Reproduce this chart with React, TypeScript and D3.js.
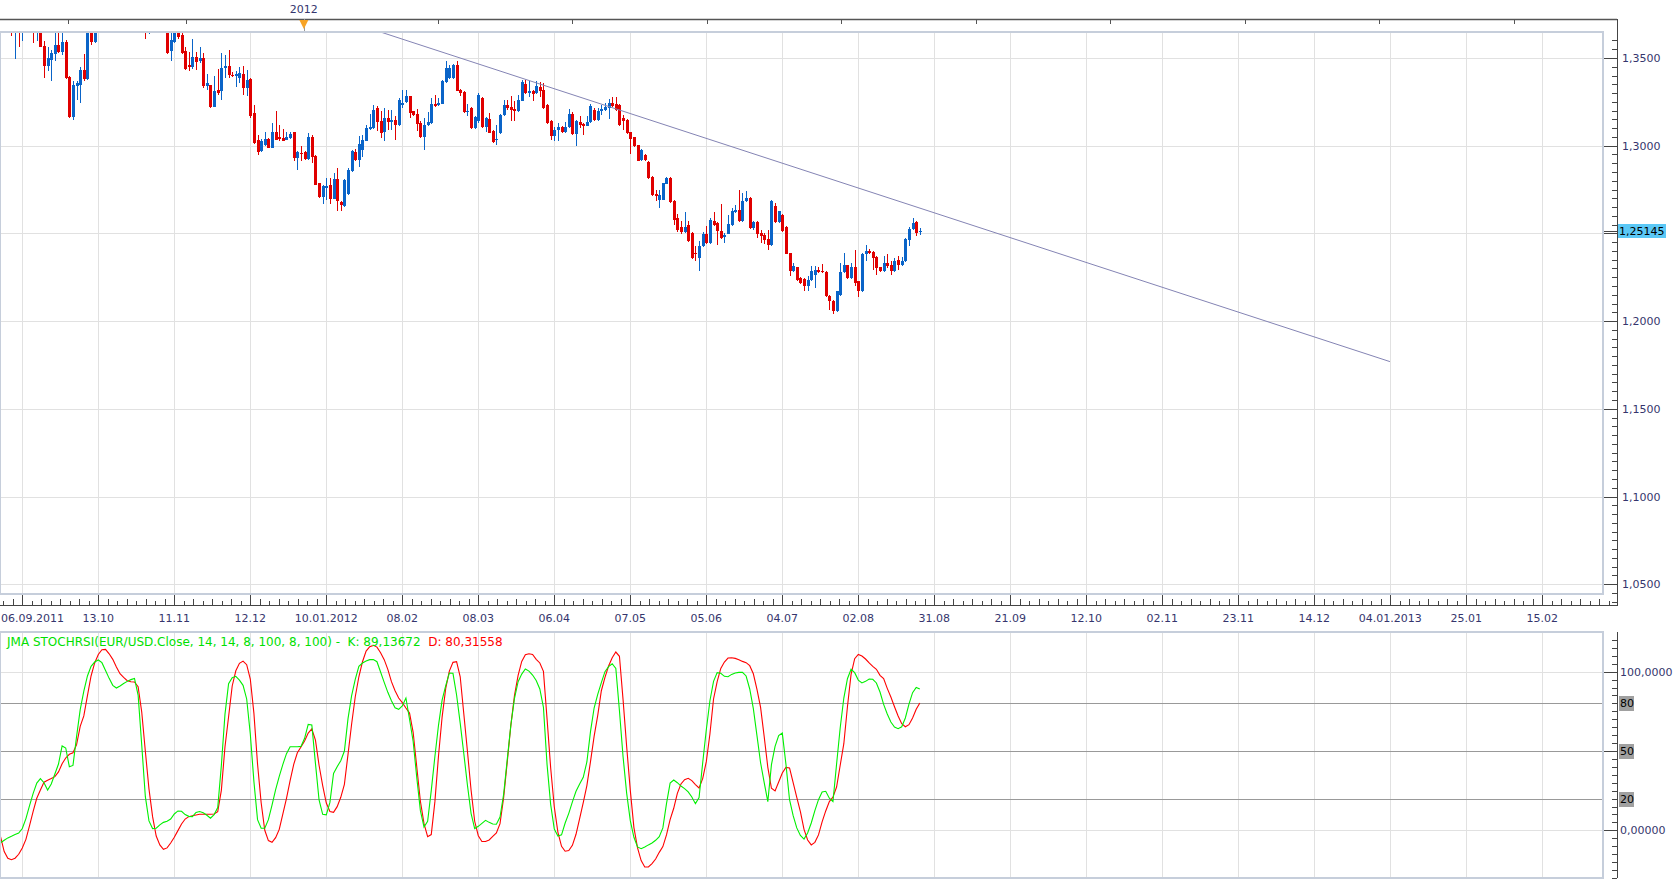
import React from 'react';
import * as d3 from 'd3';

// first bar of the series is 06.09.2011, bars are counted from the 13.10 tick minus 21
const firstBar = -6;

const opens = [
  1.4090, 1.4010, 1.4060, 1.3880, 1.3660, 1.3700, 1.3690, 1.3770, 1.3880, 1.3790,
  1.3690, 1.3715, 1.3568, 1.3456, 1.3490, 1.3522, 1.3572, 1.3534, 1.3591, 1.3390,
  1.3164, 1.3340, 1.3348, 1.3433, 1.3380, 1.3644, 1.3590, 1.3700, 1.3880, 1.3740,
  1.3760, 1.3800, 1.3770, 1.3890, 1.3910, 1.3900, 1.3910, 1.4150, 1.4140, 1.3860,
  1.3700, 1.3680, 1.3800, 1.3780, 1.3760, 1.3800, 1.3790, 1.3538, 1.3590, 1.3740,
  1.3630, 1.3540, 1.3462, 1.3447, 1.3507, 1.3481, 1.3500, 1.3338, 1.3344, 1.3223,
  1.3320, 1.3310, 1.3441, 1.3456, 1.3405, 1.3398, 1.3386, 1.3409, 1.3329, 1.3380,
  1.3186, 1.3035, 1.2972, 1.3002, 1.3038, 1.2987, 1.3078, 1.3050, 1.3044, 1.3035,
  1.3042, 1.3076, 1.2930, 1.2960, 1.2964, 1.2924, 1.3050, 1.2940, 1.2787, 1.2706,
  1.2760, 1.2778, 1.2698, 1.2810, 1.2679, 1.2655, 1.2725, 1.2858, 1.2964, 1.2920,
  1.2978, 1.3029, 1.3097, 1.3101, 1.3215, 1.3139, 1.3076, 1.3158, 1.3135, 1.3149,
  1.3120, 1.3230, 1.3249, 1.3282, 1.3196, 1.3180, 1.3130, 1.3050, 1.3120, 1.3130,
  1.3238, 1.3230, 1.3240, 1.3363, 1.3386, 1.3386, 1.3458, 1.3320, 1.3306, 1.3190,
  1.3215, 1.3101, 1.3139, 1.3272, 1.3105, 1.3155, 1.3082, 1.3030, 1.3073, 1.3177,
  1.3230, 1.3220, 1.3211, 1.3196, 1.3257, 1.3352, 1.3300, 1.3314, 1.3300, 1.3333,
  1.3320, 1.3234, 1.3139, 1.3054, 1.3092, 1.3105, 1.3078, 1.3105, 1.3181, 1.3067,
  1.3135, 1.3124, 1.3115, 1.3135, 1.3205, 1.3148, 1.3200, 1.3205, 1.3215, 1.3244,
  1.3238, 1.3234, 1.3158, 1.3148, 1.3078, 1.3048, 1.3002, 1.2921, 1.2949, 1.2905,
  1.2820, 1.2725, 1.2693, 1.2693, 1.2784, 1.2816, 1.2683, 1.2588, 1.2535, 1.2508,
  1.2550, 1.2503, 1.2390, 1.2360, 1.2426, 1.2497, 1.2446, 1.2573, 1.2560, 1.2516,
  1.2480, 1.2499, 1.2550, 1.2622, 1.2636, 1.2569, 1.2683, 1.2702, 1.2531, 1.2565,
  1.2503, 1.2493, 1.2470, 1.2436, 1.2655, 1.2565, 1.2607, 1.2535, 1.2388, 1.2284,
  1.2307, 1.2246, 1.2242, 1.2198, 1.2236, 1.2265, 1.2293, 1.2284, 1.2280, 1.2145,
  1.2117, 1.2056, 1.2151, 1.2280, 1.2318, 1.2246, 1.2307, 1.2227, 1.2170, 1.2380,
  1.2402, 1.2394, 1.2364, 1.2307, 1.2284, 1.2331, 1.2318, 1.2284, 1.2350, 1.2318,
  1.2341, 1.2465, 1.2527, 1.2565, 1.2506,
];

const highs = [
  1.4120, 1.4080, 1.4080, 1.3900, 1.3740, 1.3760, 1.3810, 1.3920, 1.3900, 1.3800,
  1.3740, 1.3740, 1.3595, 1.3563, 1.3544, 1.3670, 1.3660, 1.3670, 1.3600, 1.3395,
  1.3367, 1.3367, 1.3447, 1.3523, 1.3660, 1.3700, 1.3720, 1.3900, 1.3910, 1.3800,
  1.3840, 1.3860, 1.3920, 1.3960, 1.3950, 1.3960, 1.4240, 1.4190, 1.4150, 1.3870,
  1.3770, 1.3830, 1.3860, 1.3820, 1.3830, 1.3815, 1.3815, 1.3660, 1.3760, 1.3760,
  1.3650, 1.3560, 1.3534, 1.3608, 1.3534, 1.3563, 1.3530, 1.3409, 1.3348, 1.3395,
  1.3437, 1.3528, 1.3515, 1.3544, 1.3420, 1.3424, 1.3447, 1.3452, 1.3432, 1.3385,
  1.3234, 1.3059, 1.3040, 1.3078, 1.3045, 1.3130, 1.3200, 1.3120, 1.3095, 1.3078,
  1.3076, 1.3080, 1.2970, 1.2996, 1.2970, 1.3073, 1.3060, 1.2945, 1.2790, 1.2775,
  1.2816, 1.2816, 1.2845, 1.2873, 1.2687, 1.2810, 1.2873, 1.2975, 1.2983, 1.3054,
  1.3059, 1.3116, 1.3181, 1.3234, 1.3224, 1.3196, 1.3215, 1.3205, 1.3205, 1.3168,
  1.3272, 1.3318, 1.3318, 1.3285, 1.3200, 1.3209, 1.3139, 1.3158, 1.3190, 1.3272,
  1.3291, 1.3272, 1.3376, 1.3485, 1.3462, 1.3466, 1.3485, 1.3325, 1.3310, 1.3238,
  1.3221, 1.3170, 1.3300, 1.3280, 1.3165, 1.3186, 1.3090, 1.3120, 1.3180, 1.3262,
  1.3260, 1.3282, 1.3253, 1.3291, 1.3376, 1.3376, 1.3371, 1.3320, 1.3371, 1.3363,
  1.3357, 1.3240, 1.3145, 1.3105, 1.3130, 1.3110, 1.3133, 1.3211, 1.3190, 1.3148,
  1.3168, 1.3130, 1.3168, 1.3240, 1.3215, 1.3215, 1.3234, 1.3243, 1.3266, 1.3278,
  1.3278, 1.3240, 1.3177, 1.3150, 1.3080, 1.3050, 1.3005, 1.2980, 1.2955, 1.2910,
  1.2825, 1.2750, 1.2750, 1.2790, 1.2822, 1.2822, 1.2690, 1.2611, 1.2573, 1.2622,
  1.2569, 1.2510, 1.2430, 1.2455, 1.2508, 1.2541, 1.2590, 1.2622, 1.2565, 1.2668,
  1.2503, 1.2607, 1.2645, 1.2660, 1.2746, 1.2730, 1.2740, 1.2710, 1.2570, 1.2570,
  1.2521, 1.2500, 1.2521, 1.2693, 1.2674, 1.2630, 1.2610, 1.2540, 1.2390, 1.2331,
  1.2310, 1.2250, 1.2245, 1.2255, 1.2312, 1.2312, 1.2310, 1.2326, 1.2284, 1.2150,
  1.2120, 1.2174, 1.2331, 1.2388, 1.2320, 1.2331, 1.2407, 1.2230, 1.2388, 1.2436,
  1.2410, 1.2400, 1.2370, 1.2310, 1.2370, 1.2383, 1.2341, 1.2360, 1.2370, 1.2364,
  1.2475, 1.2535, 1.2588, 1.2570, 1.2531,
];

const lows = [
  1.3970, 1.3960, 1.3860, 1.3625, 1.3496, 1.3561, 1.3595, 1.3700, 1.3710, 1.3587,
  1.3599, 1.3560, 1.3386, 1.3424, 1.3367, 1.3485, 1.3527, 1.3519, 1.3380, 1.3160,
  1.3149, 1.3263, 1.3244, 1.3367, 1.3375, 1.3575, 1.3585, 1.3680, 1.3720, 1.3680,
  1.3700, 1.3720, 1.3750, 1.3850, 1.3850, 1.3760, 1.3900, 1.4080, 1.3840, 1.3670,
  1.3610, 1.3639, 1.3720, 1.3700, 1.3690, 1.3720, 1.3525, 1.3485, 1.3586, 1.3610,
  1.3520, 1.3430, 1.3424, 1.3440, 1.3434, 1.3471, 1.3330, 1.3318, 1.3215, 1.3220,
  1.3291, 1.3262, 1.3386, 1.3386, 1.3390, 1.3335, 1.3357, 1.3291, 1.3285, 1.3160,
  1.3010, 1.2945, 1.2965, 1.3000, 1.2985, 1.2985, 1.3030, 1.3025, 1.3025, 1.3030,
  1.3040, 1.2915, 1.2864, 1.2911, 1.2920, 1.2920, 1.2901, 1.2775, 1.2700, 1.2668,
  1.2693, 1.2668, 1.2695, 1.2630, 1.2630, 1.2649, 1.2720, 1.2850, 1.2915, 1.2881,
  1.2938, 1.3025, 1.3090, 1.3095, 1.3082, 1.3044, 1.3029, 1.3091, 1.3090, 1.3035,
  1.3115, 1.3215, 1.3245, 1.3158, 1.3170, 1.3082, 1.3045, 1.2977, 1.3115, 1.3125,
  1.3220, 1.3225, 1.3235, 1.3360, 1.3380, 1.3380, 1.3310, 1.3285, 1.3185, 1.3167,
  1.3095, 1.3095, 1.3130, 1.3100, 1.3078, 1.3070, 1.3015, 1.3002, 1.3065, 1.3170,
  1.3205, 1.3139, 1.3139, 1.3190, 1.3255, 1.3295, 1.3280, 1.3257, 1.3295, 1.3278,
  1.3210, 1.3125, 1.3035, 1.3029, 1.3029, 1.3070, 1.3075, 1.3100, 1.3060, 1.3000,
  1.3101, 1.3063, 1.3110, 1.3130, 1.3140, 1.3140, 1.3173, 1.3200, 1.3154, 1.3220,
  1.3200, 1.3115, 1.3091, 1.3068, 1.2953, 1.2990, 1.2910, 1.2915, 1.2915, 1.2810,
  1.2715, 1.2683, 1.2645, 1.2688, 1.2780, 1.2675, 1.2550, 1.2508, 1.2499, 1.2505,
  1.2450, 1.2355, 1.2341, 1.2288, 1.2420, 1.2440, 1.2440, 1.2545, 1.2436, 1.2470,
  1.2446, 1.2495, 1.2545, 1.2618, 1.2565, 1.2565, 1.2680, 1.2525, 1.2520, 1.2474,
  1.2446, 1.2440, 1.2408, 1.2430, 1.2560, 1.2560, 1.2508, 1.2380, 1.2255, 1.2280,
  1.2230, 1.2212, 1.2170, 1.2170, 1.2230, 1.2189, 1.2275, 1.2275, 1.2140, 1.2066,
  1.2043, 1.2050, 1.2145, 1.2275, 1.2240, 1.2240, 1.2198, 1.2136, 1.2165, 1.2345,
  1.2385, 1.2293, 1.2265, 1.2280, 1.2280, 1.2305, 1.2265, 1.2280, 1.2293, 1.2315,
  1.2335, 1.2426, 1.2520, 1.2484, 1.2493,
];

const closes = [
  1.4010, 1.4060, 1.3880, 1.3640, 1.3700, 1.3690, 1.3770, 1.3880, 1.3790, 1.3690,
  1.3715, 1.3565, 1.3456, 1.3500, 1.3528, 1.3572, 1.3534, 1.3591, 1.3386, 1.3164,
  1.3348, 1.3355, 1.3433, 1.3380, 1.3643, 1.3590, 1.3700, 1.3880, 1.3740, 1.3760,
  1.3800, 1.3770, 1.3890, 1.3910, 1.3900, 1.3910, 1.4150, 1.4140, 1.3860, 1.3700,
  1.3680, 1.3800, 1.3780, 1.3760, 1.3800, 1.3790, 1.3530, 1.3600, 1.3740, 1.3618,
  1.3530, 1.3440, 1.3451, 1.3504, 1.3475, 1.3500, 1.3338, 1.3360, 1.3219, 1.3310,
  1.3300, 1.3443, 1.3452, 1.3405, 1.3398, 1.3410, 1.3415, 1.3329, 1.3376, 1.3167,
  1.3016, 1.2964, 1.3029, 1.3038, 1.2987, 1.3078, 1.3035, 1.3040, 1.3029, 1.3052,
  1.3065, 1.2930, 1.2964, 1.2950, 1.2924, 1.3050, 1.2934, 1.2778, 1.2706, 1.2769,
  1.2770, 1.2698, 1.2810, 1.2683, 1.2664, 1.2807, 1.2863, 1.2968, 1.2920, 1.3010,
  1.3035, 1.3101, 1.3107, 1.3205, 1.3135, 1.3073, 1.3158, 1.3135, 1.3145, 1.3120,
  1.3262, 1.3245, 1.3282, 1.3186, 1.3177, 1.3124, 1.3050, 1.3120, 1.3135, 1.3238,
  1.3225, 1.3245, 1.3371, 1.3443, 1.3443, 1.3458, 1.3314, 1.3300, 1.3192, 1.3200,
  1.3101, 1.3162, 1.3291, 1.3105, 1.3158, 1.3073, 1.3021, 1.3040, 1.3173, 1.3234,
  1.3215, 1.3205, 1.3196, 1.3262, 1.3361, 1.3300, 1.3310, 1.3297, 1.3338, 1.3314,
  1.3215, 1.3130, 1.3054, 1.3092, 1.3105, 1.3078, 1.3107, 1.3181, 1.3067, 1.3139,
  1.3120, 1.3115, 1.3135, 1.3225, 1.3148, 1.3196, 1.3210, 1.3220, 1.3244, 1.3225,
  1.3205, 1.3120, 1.3143, 1.3073, 1.3040, 1.2996, 1.2915, 1.2975, 1.2921, 1.2816,
  1.2721, 1.2711, 1.2721, 1.2787, 1.2816, 1.2679, 1.2578, 1.2521, 1.2508, 1.2535,
  1.2455, 1.2360, 1.2380, 1.2426, 1.2497, 1.2446, 1.2579, 1.2550, 1.2512, 1.2474,
  1.2490, 1.2554, 1.2630, 1.2636, 1.2569, 1.2683, 1.2702, 1.2531, 1.2565, 1.2497,
  1.2484, 1.2465, 1.2436, 1.2683, 1.2565, 1.2626, 1.2512, 1.2383, 1.2284, 1.2312,
  1.2236, 1.2218, 1.2198, 1.2236, 1.2284, 1.2293, 1.2280, 1.2280, 1.2145, 1.2113,
  1.2056, 1.2170, 1.2280, 1.2318, 1.2246, 1.2307, 1.2218, 1.2170, 1.2383, 1.2402,
  1.2390, 1.2360, 1.2303, 1.2284, 1.2331, 1.2312, 1.2284, 1.2345, 1.2322, 1.2345,
  1.2470, 1.2527, 1.2560, 1.2503, 1.25145,
];

// JMA StochRSI, K (green) and D (red)
const stochK = [
  -7.8, -6.3, -4.8, -3.8, -2.7, -1.7, 1.1, 7.4, 15.5, 23.3,
  29.8, 32.6, 30.0, 25.4, 29.2, 35.5, 41.8, 53.2, 51.9, 40.1,
  40.9, 59.2, 76.1, 87.8, 97.3, 103.4, 106.1, 107.4, 105.7, 100.8,
  95.8, 91.4, 89.7, 91.0, 92.6, 93.9, 95.0, 95.8, 85.3, 53.8,
  21.2, 5.9, 1.1, 1.3, 3.4, 5.0, 5.7, 7.1, 10.3, 12.2,
  12.0, 9.9, 8.8, 8.6, 11.3, 11.8, 11.1, 9.5, 7.6, 9.9,
  14.3, 40.8, 73.1, 92.4, 96.2, 97.1, 94.7, 91.4, 82.8, 60.7,
  30.7, 6.7, 1.3, 1.3, 6.7, 15.8, 25.6, 34.0, 41.6, 48.3,
  52.7, 52.7, 52.7, 52.9, 58.0, 66.8, 66.4, 42.2, 19.1, 10.1,
  9.7, 17.6, 35.9, 40.1, 43.9, 50.0, 70.4, 84.9, 95.2, 103.4,
  105.5, 106.7, 107.6, 107.6, 106.3, 99.8, 93.3, 87.0, 81.7, 77.3,
  76.3, 78.4, 83.4, 70.0, 56.1, 33.2, 12.4, 2.1, 5.7, 25.0,
  46.4, 66.2, 82.1, 91.2, 99.2, 99.0, 85.3, 67.6, 48.3, 28.4,
  10.7, 1.1, 2.5, 4.4, 6.3, 5.0, 4.0, 3.8, 8.4, 22.7,
  44.7, 66.4, 83.2, 93.7, 98.5, 101.7, 100.4, 97.9, 94.5, 89.1,
  77.5, 41.4, 16.2, 0.8, -3.6, -2.9, 4.6, 10.7, 17.9, 24.6,
  29.2, 33.4, 43.1, 62.2, 77.1, 85.7, 93.1, 100.0, 103.2, 105.0,
  102.1, 75.4, 46.4, 23.3, 6.1, -4.4, -10.5, -11.6, -10.5, -9.2,
  -8.0, -6.3, -4.0, 1.5, 16.8, 29.8, 31.7, 30.0, 27.9, 26.3,
  24.2, 21.0, 16.8, 20.6, 42.4, 63.4, 81.7, 93.9, 99.4, 99.0,
  97.1, 96.8, 98.3, 99.2, 99.6, 99.6, 97.3, 89.1, 76.7, 59.7,
  42.6, 30.0, 18.1, 41.4, 52.9, 59.7, 61.3, 41.8, 19.3, 9.2,
  1.5, -3.2, -5.5, -1.7, 4.6, 12.4, 19.3, 24.2, 24.6, 20.2,
  18.1, 41.8, 64.7, 83.4, 95.6, 101.5, 99.4, 94.7, 92.9, 93.9,
  95.4, 95.2, 92.9, 87.2, 79.4, 73.3, 68.3, 65.1, 64.1, 65.3,
  70.8, 79.6, 86.8, 90.1, 89.13672,
];

const stochD = [
  -4.2, -13.4, -17.6, -18.5, -17.6, -15.1, -11.1, -5.7, 2.9, 12.0,
  20.2, 25.4, 30.3, 31.5, 32.6, 33.8, 36.8, 42.0, 45.6, 47.9,
  48.9, 54.0, 65.5, 72.1, 84.9, 97.3, 105.5, 110.9, 113.9, 114.1,
  111.3, 107.8, 102.9, 98.7, 96.4, 94.3, 93.7, 93.5, 90.5, 74.6,
  49.8, 26.1, 8.6, -3.6, -9.2, -12.0, -11.1, -8.0, -4.4, -0.2,
  4.0, 7.1, 8.6, 9.2, 9.7, 10.1, 10.1, 10.1, 10.1, 10.3,
  11.8, 25.2, 52.5, 71.6, 91.0, 100.6, 105.3, 106.7, 104.4, 95.4,
  73.7, 41.8, 17.4, 0.0, -6.5, -7.6, -4.6, 0.6, 10.3, 20.2,
  31.3, 41.6, 48.9, 52.5, 56.3, 61.3, 63.9, 56.9, 41.0, 28.2,
  17.2, 11.8, 11.3, 14.9, 20.8, 29.0, 47.9, 67.0, 84.2, 96.8,
  106.3, 113.0, 115.8, 116.6, 115.5, 112.0, 107.6, 101.5, 93.7, 88.0,
  83.4, 80.5, 77.1, 73.9, 61.8, 39.9, 18.3, 4.2, -4.0, -2.7,
  17.9, 46.8, 71.4, 89.5, 100.4, 105.9, 106.3, 96.8, 73.3, 49.8,
  25.4, 5.7, -3.4, -7.1, -7.1, -6.1, -3.8, -1.7, 4.2, 20.6,
  43.1, 66.4, 85.1, 97.7, 106.5, 110.7, 111.3, 110.9, 107.8, 105.5,
  100.2, 70.2, 39.3, 14.7, -1.3, -10.1, -13.2, -12.8, -9.5, -2.5,
  7.4, 17.4, 28.2, 43.3, 59.2, 72.5, 88.0, 96.4, 103.6, 108.8,
  112.4, 109.7, 82.4, 52.7, 25.2, 1.7, -11.1, -19.1, -23.1, -23.1,
  -21.0, -18.1, -13.9, -10.3, -2.9, 6.7, 13.9, 23.3, 29.2, 31.9,
  32.8, 31.3, 28.8, 26.7, 32.6, 43.3, 60.7, 82.8, 93.7, 102.1,
  106.1, 108.6, 108.8, 108.4, 107.6, 106.5, 105.7, 103.8, 98.7, 88.9,
  77.5, 59.0, 39.7, 26.5, 24.8, 30.5, 36.1, 39.7, 39.3, 30.0,
  20.8, 11.8, 0.6, -6.1, -9.2, -7.6, -2.9, 5.3, 12.2, 18.1,
  21.0, 27.3, 41.0, 54.6, 77.9, 98.3, 108.2, 110.9, 109.9, 108.0,
  105.5, 103.4, 101.5, 97.7, 95.6, 89.5, 84.0, 77.9, 72.1, 67.2,
  65.3, 66.6, 70.8, 76.3, 80.31558,
];

// one date label every 21 bars, starting at bar 0
const barsPerLabel = 21;
const dateLabels = [
  '06.09.2011', '13.10', '11.11', '12.12', '10.01.2012', '08.02', '08.03', '06.04',
  '07.05', '05.06', '04.07', '02.08', '31.08', '21.09', '12.10', '02.11', '23.11',
  '14.12', '04.01.2013', '25.01', '15.02',
];

// navigator ticks along the top (in bars), and the year marker
const navTicks = [12.6, 45.2, 114.9, 151.9, 189.1, 226.1, 263.4, 300.6, 337.9, 374.9, 412.2];
const yearMarker = {bar: 77.8, label: '2012'};

const priceTicks = [1.05, 1.10, 1.15, 1.20, 1.25, 1.30, 1.35];
const stochAxis = [{value: 100, label: '100,0000'}, {value: 0, label: '0,00000'}];
const stochLevels = [20, 50, 80];
const lastPrice = 1.25145;
const trendLine = [{bar: 30, price: 1.4113}, {bar: 377.9, price: 1.1769}];
const legendText = 'JMA STOCHRSI(EUR/USD.Close, 14, 14, 8, 100, 8, 100) -  K: 89,13672';
const legendD = 'D: 80,31558';

const W = 1674;
const H = 880;
const FRAME_R = 1603;
const AXIS_X = 1617;
const PANEL_TOP = 32;
const PANEL_BOTTOM = 594;
const DATE_AXIS_Y = 605;
const LOW_TOP = 632;
const LOW_BOTTOM = 878;
const NAV_Y = 19;

const FONT = '"DejaVu Sans", Verdana, sans-serif';
const TEXT = '#35356d';
const GRID = '#e1e1e1';
const FRAME = '#c6cedb';
const UP = '#0a64c8';
const DOWN = '#e00000';

const locale = d3.formatLocale({decimal: ',', thousands: '.', grouping: [3], currency: ['', '']});
const fmtPrice = locale.format('.4f');
const fmtLast = locale.format('.5f');

export default function App() {
  const x = d3.scaleLinear().domain([0, barsPerLabel]).range([22.3, 98.3]);
  const y = d3.scaleLinear().domain([1.05, 1.35]).range([584.2, 58]);
  const ys = d3.scaleLinear().domain([0, 100]).range([830.3, 671.7]);

  const bars = opens.map((o, k) => ({
    i: firstBar + k, o, h: highs[k], l: lows[k], c: closes[k],
  }));

  const stochLine = d3.line<number>()
    .x((_, k) => x(firstBar + k))
    .y(v => ys(v));

  const dateTicks = dateLabels.map((label, k) => ({label, bar: k * barsPerLabel}));
  const minorDateTicks = d3.range(-barsPerLabel, 441, barsPerLabel / 8)
    .filter(b => Math.abs(b / barsPerLabel - Math.round(b / barsPerLabel)) > 0.01)
    .filter(b => x(b) > 0 && x(b) < AXIS_X);

  const priceMinor = d3.range(0, 70).map(k => 1.04 + k * 0.005)
    .filter(p => y(p) > PANEL_TOP && y(p) < DATE_AXIS_Y - 2);
  const stochMinor = d3.range(-30, 130, 5).filter(v => ys(v) > LOW_TOP + 4 && ys(v) < LOW_BOTTOM);

  // the last-price badge hides the regular label it would cover
  const priceLabels = priceTicks.filter(p => Math.abs(y(p) - y(lastPrice)) > 12);

  const gridX = dateTicks.map(t => Math.round(x(t.bar)) + 0.5);

  return (
    <div style={{position: 'absolute', left: 0, top: 0}}>
      <svg width={W} height={H} style={{display: 'block', background: '#fff'}} fontFamily={FONT}>
        <defs>
          <clipPath id="price-clip">
            <rect x={0} y={PANEL_TOP} width={FRAME_R} height={PANEL_BOTTOM - PANEL_TOP}/>
          </clipPath>
          <clipPath id="stoch-clip">
            <rect x={0} y={LOW_TOP} width={FRAME_R} height={LOW_BOTTOM - LOW_TOP}/>
          </clipPath>
        </defs>

        {/* navigator strip */}
        <text x={x(yearMarker.bar)} y={13} fontSize={11} fill={TEXT} textAnchor="middle">{yearMarker.label}</text>
        <line x1={0} x2={AXIS_X} y1={NAV_Y + 0.5} y2={NAV_Y + 0.5} stroke="#555" strokeWidth={1.5}/>
        {navTicks.map(b => (
          <line key={b} x1={Math.round(x(b)) + 0.5} x2={Math.round(x(b)) + 0.5} y1={NAV_Y} y2={NAV_Y + 5}
                stroke="#555"/>
        ))}
        <line x1={Math.round(x(yearMarker.bar)) + 0.5} x2={Math.round(x(yearMarker.bar)) + 0.5}
              y1={NAV_Y} y2={PANEL_TOP} stroke="#999"/>
        <path d={`M${x(yearMarker.bar) - 4.5},${NAV_Y + 1} L${x(yearMarker.bar) + 4.5},${NAV_Y + 1} L${x(yearMarker.bar)},${NAV_Y + 10} Z`}
              fill="#f7a325"/>

        {/* price panel grid */}
        <g shapeRendering="crispEdges">
          {gridX.map((gx, k) => (
            <line key={k} x1={gx} x2={gx} y1={PANEL_TOP} y2={PANEL_BOTTOM} stroke={GRID}/>
          ))}
          {priceTicks.map(p => (
            <line key={p} x1={0} x2={FRAME_R} y1={Math.round(y(p)) + 0.5} y2={Math.round(y(p)) + 0.5} stroke={GRID}/>
          ))}
        </g>

        {/* candles */}
        <g clipPath="url(#price-clip)" shapeRendering="crispEdges">
          {bars.map(b => {
            const cx = Math.round(x(b.i));
            const up = b.c >= b.o;
            const color = up ? UP : DOWN;
            const top = y(Math.max(b.o, b.c));
            const bot = y(Math.min(b.o, b.c));
            return (
              <g key={b.i}>
                <rect x={cx} y={y(b.h)} width={1} height={Math.max(1, y(b.l) - y(b.h))} fill={color}/>
                <rect x={cx - 1} y={top} width={3} height={Math.max(1, bot - top)} fill={color}/>
              </g>
            );
          })}
        </g>

        {/* trend line */}
        <g clipPath="url(#price-clip)">
          <line x1={x(trendLine[0].bar)} y1={y(trendLine[0].price)} x2={x(trendLine[1].bar)} y2={y(trendLine[1].price)}
                stroke="#8484b4" strokeWidth={1}/>
        </g>

        <rect x={0} y={PANEL_TOP} width={FRAME_R} height={PANEL_BOTTOM - PANEL_TOP} fill="none" stroke={FRAME} strokeWidth={2}/>

        {/* price axis */}
        <g shapeRendering="crispEdges">
          <line x1={AXIS_X + 0.5} x2={AXIS_X + 0.5} y1={NAV_Y} y2={DATE_AXIS_Y} stroke="#444"/>
          {priceMinor.map(p => (
            <line key={p} x1={AXIS_X - 5} x2={AXIS_X} y1={Math.round(y(p)) + 0.5} y2={Math.round(y(p)) + 0.5} stroke="#444"/>
          ))}
          {priceTicks.map(p => (
            <line key={p} x1={FRAME_R + 1} x2={AXIS_X} y1={Math.round(y(p)) + 0.5} y2={Math.round(y(p)) + 0.5} stroke="#444"/>
          ))}
          <line x1={FRAME_R + 1} x2={AXIS_X} y1={Math.round(y(lastPrice)) + 0.5} y2={Math.round(y(lastPrice)) + 0.5} stroke="#444"/>
        </g>
        {priceLabels.map(p => (
          <text key={p} x={AXIS_X + 5} y={y(p) + 4} fontSize={11} fill={TEXT}>{fmtPrice(p)}</text>
        ))}
        <rect x={AXIS_X + 1} y={Math.round(y(lastPrice)) - 7} width={48} height={14} fill="#5bc8f6"/>
        <text x={AXIS_X + 2} y={y(lastPrice) + 4} fontSize={11} fill="#000">{fmtLast(lastPrice)}</text>

        {/* date axis */}
        <g shapeRendering="crispEdges">
          <line x1={0} x2={AXIS_X + 1} y1={DATE_AXIS_Y + 0.5} y2={DATE_AXIS_Y + 0.5} stroke="#444"/>
          {gridX.map((gx, k) => (
            <line key={k} x1={gx} x2={gx} y1={PANEL_BOTTOM + 1} y2={DATE_AXIS_Y} stroke="#444"/>
          ))}
          {minorDateTicks.map((b, k) => (
            <line key={b} x1={Math.round(x(b)) + 0.5} x2={Math.round(x(b)) + 0.5}
                  y1={DATE_AXIS_Y - (k % 2 === 0 ? 4 : 6)} y2={DATE_AXIS_Y} stroke="#444"/>
          ))}
        </g>
        {dateTicks.map(t => {
          const half = t.label.length * 3.2;
          const cx = x(t.bar);
          const clamp = cx - half < 1;
          return (
            <text key={t.bar} x={clamp ? 1 : cx} y={622} fontSize={11} fill={TEXT}
                  textAnchor={clamp ? 'start' : 'middle'}>{t.label}</text>
          );
        })}

        {/* stochastic panel */}
        <g shapeRendering="crispEdges">
          {gridX.map((gx, k) => (
            <line key={k} x1={gx} x2={gx} y1={LOW_TOP} y2={LOW_BOTTOM} stroke={GRID}/>
          ))}
          {stochAxis.map(s => (
            <line key={s.value} x1={0} x2={FRAME_R} y1={Math.round(ys(s.value)) + 0.5} y2={Math.round(ys(s.value)) + 0.5} stroke={GRID}/>
          ))}
          {stochLevels.map(v => (
            <line key={v} x1={0} x2={FRAME_R} y1={Math.round(ys(v)) + 0.5} y2={Math.round(ys(v)) + 0.5} stroke="#999"/>
          ))}
        </g>
        <g clipPath="url(#stoch-clip)" fill="none" strokeWidth={1.1}>
          <path d={stochLine(stochD) ?? ''} stroke="#ff0000"/>
          <path d={stochLine(stochK) ?? ''} stroke="#00f000"/>
        </g>
        <rect x={0} y={LOW_TOP} width={FRAME_R} height={LOW_BOTTOM - LOW_TOP} fill="none" stroke={FRAME} strokeWidth={2}/>
        <text x={7} y={646} fontSize={12} style={{whiteSpace: 'pre'}}>
          <tspan fill="#00e000">{legendText}</tspan>
          <tspan fill="#ff0000">{'  ' + legendD}</tspan>
        </text>

        {/* stochastic axis */}
        <g shapeRendering="crispEdges">
          <line x1={AXIS_X + 0.5} x2={AXIS_X + 0.5} y1={LOW_TOP} y2={LOW_BOTTOM} stroke="#444"/>
          {stochMinor.map(v => (
            <line key={v} x1={AXIS_X - 5} x2={AXIS_X} y1={Math.round(ys(v)) + 0.5} y2={Math.round(ys(v)) + 0.5} stroke="#444"/>
          ))}
          {[100, 50, 0].map(v => (
            <line key={v} x1={FRAME_R + 1} x2={AXIS_X} y1={Math.round(ys(v)) + 0.5} y2={Math.round(ys(v)) + 0.5} stroke="#444"/>
          ))}
        </g>
        {stochAxis.map(s => (
          <text key={s.value} x={AXIS_X + 3} y={ys(s.value) + 4} fontSize={11} fill={TEXT}>{s.label}</text>
        ))}
        {stochLevels.map(v => (
          <g key={v}>
            <rect x={AXIS_X + 2} y={Math.round(ys(v)) - 7} width={15} height={15} fill="#a0a0a0"/>
            <text x={AXIS_X + 3} y={ys(v) + 4} fontSize={11} fill="#000">{v}</text>
          </g>
        ))}
      </svg>
    </div>
  );
}
